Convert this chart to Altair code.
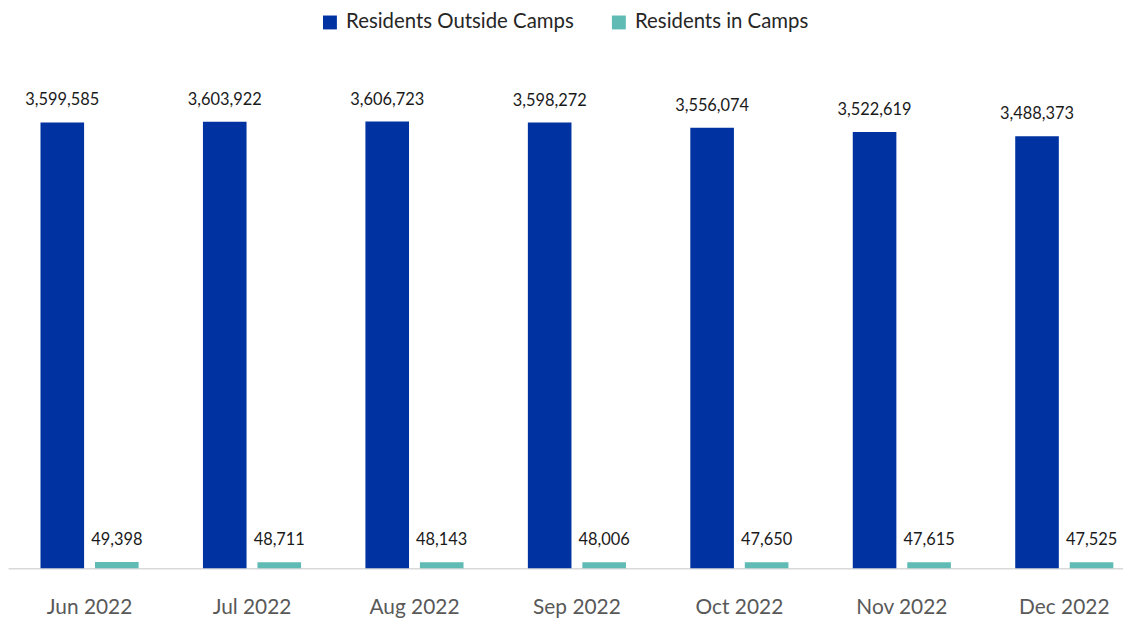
import altair as alt
import pandas as pd

months = ["Jun 2022", "Jul 2022", "Aug 2022", "Sep 2022", "Oct 2022", "Nov 2022", "Dec 2022"]
outside_camps = [3599585, 3603922, 3606723, 3598272, 3556074, 3522619, 3488373]
in_camps = [49398, 48711, 48143, 48006, 47650, 47615, 47525]
series = ["Residents Outside Camps", "Residents in Camps"]
colors = ["#0033A1", "#60BBB5"]

rows = []
for m, a, b in zip(months, outside_camps, in_camps):
    rows.append({"month": m, "series": series[0], "value": a})
    rows.append({"month": m, "series": series[1], "value": b})
df = pd.DataFrame(rows)

x_enc = alt.X("month:N", sort=months,
              scale=alt.Scale(range=[0, 1146], paddingInner=0.396, paddingOuter=0.2, round=False),
              axis=alt.Axis(title=None, labelAngle=0, ticks=False, labelPadding=29,
                            labelFontSize=21, labelColor="#595959",
                            domainColor="#d9d9d9", domainWidth=1.5, grid=False))
xoff = alt.XOffset("series:N", sort=series,
                   scale=alt.Scale(domain=series, paddingInner=0.2, paddingOuter=0, round=False))
y_enc = alt.Y("value:Q", scale=alt.Scale(domain=[0, 4505500], nice=False), axis=None)

bars = alt.Chart(df).mark_bar().encode(
    x=x_enc, xOffset=xoff, y=y_enc,
    color=alt.Color("series:N", sort=series,
                    scale=alt.Scale(domain=series, range=colors),
                    legend=alt.Legend(title=None, orient="none", direction="horizontal",
                                      legendX=314, legendY=2, symbolType="square",
                                      symbolSize=196, symbolStrokeWidth=0,
                                      labelFontSize=20.5, labelColor="#262626",
                                      labelOffset=6, columnPadding=35,
                                      labelLimit=400))
)

labels = alt.Chart(df).mark_text(baseline="bottom", dy=-14, fontSize=16.5, color="#1a1a1a").encode(
    x=alt.X("month:N", sort=months), xOffset=alt.XOffset("series:N", sort=series),
    y="value:Q",
    text=alt.Text("value:Q", format=",")
)

chart = (bars + labels).properties(
    width=1123, height=562,
    autosize=alt.AutoSizeParams(type="none"),
    padding={"left": 0, "top": 0, "right": 0, "bottom": 50},
).configure(font="Lato").configure_view(stroke=None)

chart.save("out.html", embed_options={"renderer": "svg", "actions": False})
